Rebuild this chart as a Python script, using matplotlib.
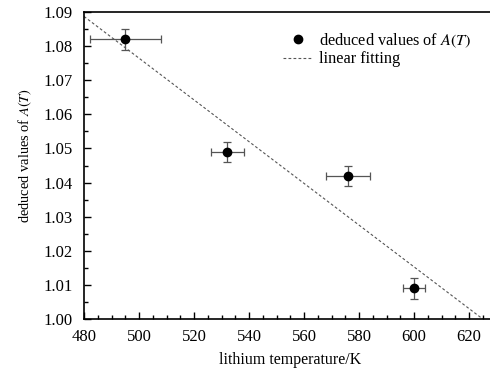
import matplotlib
matplotlib.use("Agg")
import matplotlib.pyplot as plt
from matplotlib.ticker import MultipleLocator

plt.rcParams['font.family'] = ['Liberation Serif', 'DejaVu Serif']
plt.rcParams['mathtext.fontset'] = 'stix'

# data
temperature = [495, 532, 576, 600]
temp_err = [13, 6, 8, 4]
a_values = [1.082, 1.049, 1.042, 1.009]
a_err = [0.003, 0.003, 0.003, 0.003]
fit_x = [480, 625]
fit_y = [1.0887, 1.0]
x_ticks = [480, 500, 520, 540, 560, 580, 600, 620]
y_ticks = [1.00, 1.01, 1.02, 1.03, 1.04, 1.05, 1.06, 1.07, 1.08, 1.09]

W, H = 490, 370
fig = plt.figure(figsize=(W / 100, H / 100), dpi=100)
left, right, top, bottom = 84, 496.5, 12, 319
ax = fig.add_axes([left / W, 1 - bottom / H, (right - left) / W, (bottom - top) / H])

ax.errorbar(temperature, a_values, xerr=temp_err, yerr=a_err, fmt='none',
            ecolor='#555555', elinewidth=0.9, capsize=3, capthick=0.9, zorder=3)
pts, = ax.plot(temperature, a_values, 'o', color='black', markersize=6,
               label='deduced values of $A(T)$', zorder=4)
fit, = ax.plot(fit_x, fit_y, linestyle=(0, (2.5, 2)), color='#555555', linewidth=0.8,
               label='linear fitting', zorder=2)

ax.set_xlim(480, 630)
ax.set_ylim(1.00, 1.09)
ax.set_xticks(x_ticks)
ax.set_yticks(y_ticks)
ax.set_yticklabels([f"{v:.2f}" for v in y_ticks])
ax.xaxis.set_minor_locator(MultipleLocator(5))
ax.yaxis.set_minor_locator(MultipleLocator(0.005))
ax.tick_params(which='both', direction='in', top=False, right=False, labelsize=12, width=1)
ax.tick_params(which='major', length=5)
ax.tick_params(which='minor', length=3)
ax.tick_params(axis='x', which='major', pad=7)
ax.tick_params(axis='y', which='major', pad=8)
for s in ax.spines.values():
    s.set_linewidth(1.2)

ax.set_xlabel('lithium temperature/K', fontsize=11.5, labelpad=5)
ax.set_ylabel('deduced values of $A(T)$', fontsize=10.4)
ax.yaxis.set_label_coords(-0.122, 0.533)

ax.legend(handles=[pts, fit], loc='upper left', bbox_to_anchor=(0.446, 0.985), frameon=False,
          fontsize=11.7, handlelength=1.85, handletextpad=0.4, labelspacing=0.1)

fig.savefig('out.png', dpi=100)
